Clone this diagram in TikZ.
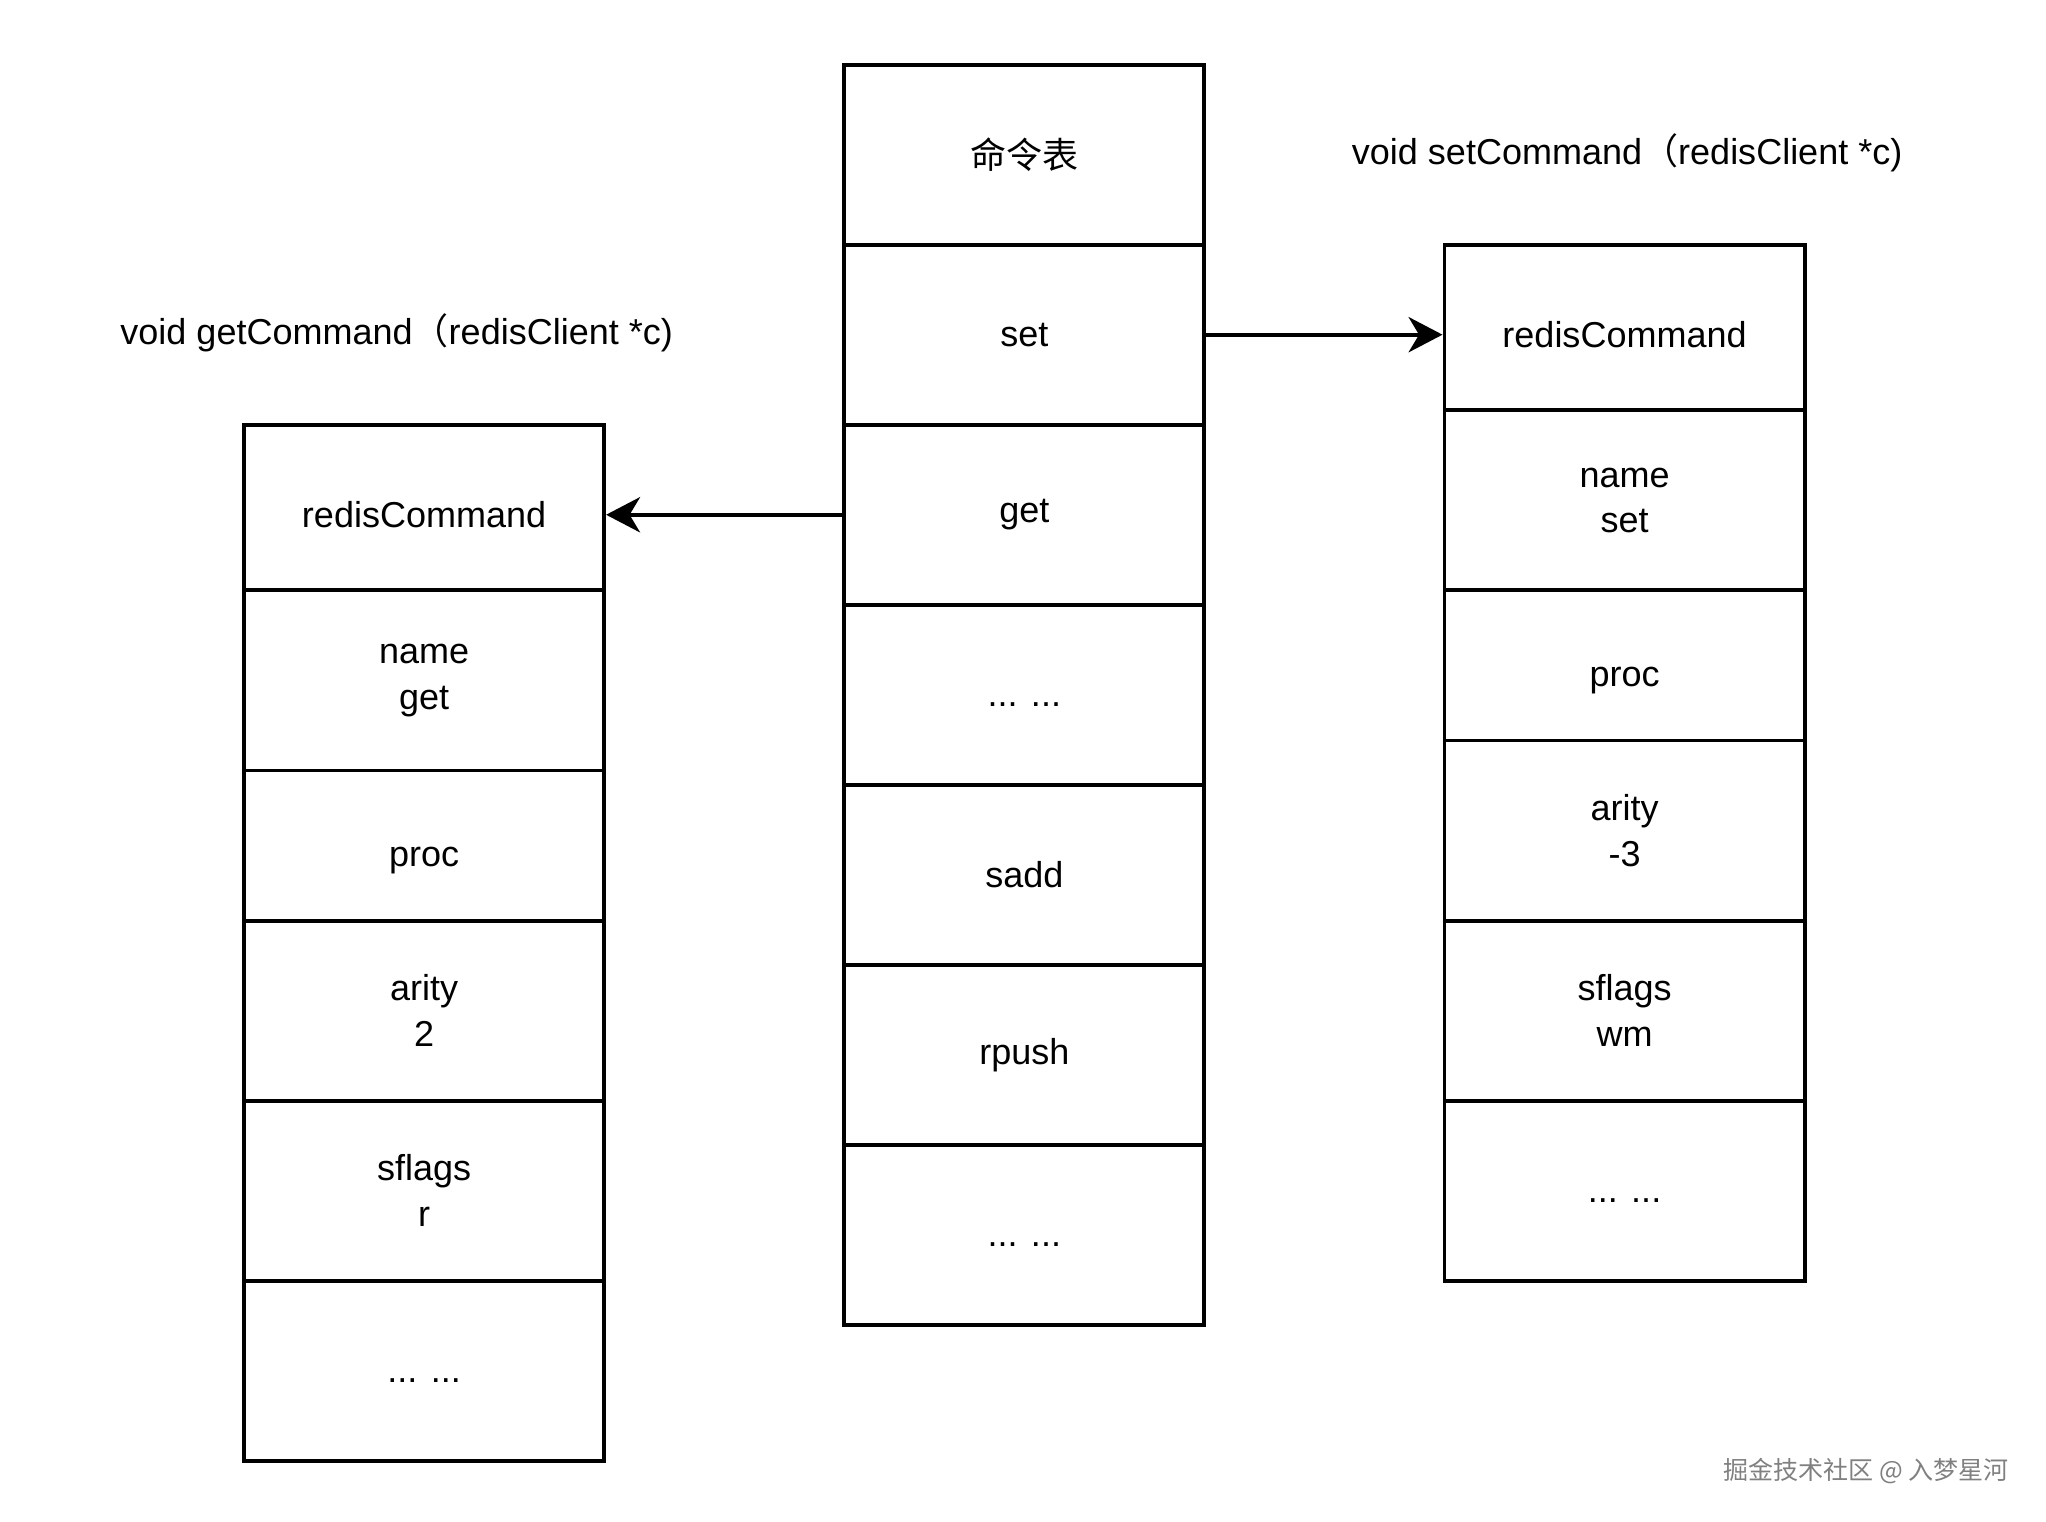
\documentclass[tikz,border=0pt]{standalone}
\usepackage{fontspec}
\setmainfont{Liberation Sans}
\newfontfamily\cjk{Noto Sans CJK SC}
\usetikzlibrary{arrows.meta}
\newcommand{\dotsrow}{\raisebox{-4.4pt}[0pt][0pt]{... ...}}
\begin{document}
\begin{tikzpicture}[x=0.5pt,y=-0.5pt,
  cell/.style={draw=black, fill=white, line width=1.5pt, minimum width=138pt,
    minimum height=69pt, inner sep=0pt,
    align=center, font=\fontsize{13.8pt}{17.5pt}\selectfont, anchor=north},
  lbl/.style={font=\fontsize{13.8pt}{17.5pt}\selectfont, inner sep=0pt},
  conn/.style={line width=1.5pt, -{Stealth[length=13pt,width=13.5pt,inset=4pt]}}]
\useasboundingbox (0,0) rectangle (1568,1166);
% centre table
\node[cell] (t0) at (785,48) {\cjk 命令表};
\node[cell] (t1) at (785,186) {set};
\node[cell] (t2) at (785,324) {get};
\node[cell] (t3) at (785,462) {\dotsrow};
\node[cell] (t4) at (785,600) {sadd};
\node[cell] (t5) at (785,738) {rpush};
\node[cell] (t6) at (785,876) {\dotsrow};
% right table (set)
\node[cell] (r0) at (1245,186) {redisCommand};
\node[cell] (r1) at (1245,313) {name\\set};
\node[cell] (r2) at (1245,451) {proc};
\node[cell] (r3) at (1245,566) {arity\\-3};
\node[cell] (r4) at (1245,704) {sflags\\wm};
\node[cell] (r5) at (1245,842) {\dotsrow};
% left table (get)
\node[cell] (l0) at (325,324) {redisCommand};
\node[cell] (l1) at (325,451) {name\\get};
\node[cell] (l2) at (325,589) {proc};
\node[cell] (l3) at (325,704) {arity\\2};
\node[cell] (l4) at (325,842) {sflags\\r};
\node[cell] (l5) at (325,980) {\dotsrow};
% labels
\node[lbl] (ls) at (1247,117) {void setCommand{\cjk （}redisClient *c)};
\node[lbl] (lg) at (304,255) {void getCommand{\cjk （}redisClient *c)};
% connectors
\draw[conn] (t1.east) -- (r0.west);
\draw[conn] (t2.west) -- (l0.east);
% watermark
\node[font=\cjk\fontsize{9.6pt}{11pt}\selectfont, text=black!50, inner sep=0pt] (wm) at (1430,1127) {掘金技术社区 @ 入梦星河};
\end{tikzpicture}
\end{document}
